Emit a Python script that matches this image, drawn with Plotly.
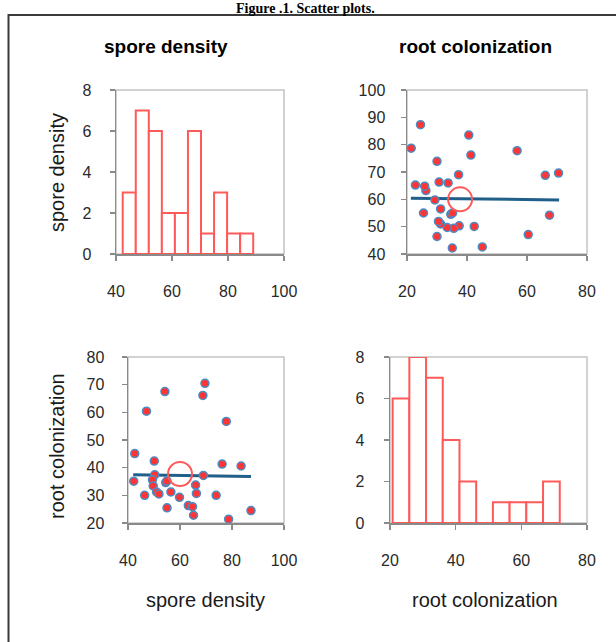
import plotly.graph_objects as go

# ---------------- data ----------------
spore_bin_edges = [42.4, 47.06, 51.72, 56.38, 61.04, 65.7, 70.36, 75.02, 79.68, 84.34, 89.0]
spore_counts = [3, 7, 6, 2, 2, 6, 1, 3, 1, 1]

root_bin_edges = [20.8, 25.89, 30.98, 36.07, 41.16, 46.25, 51.34, 56.43, 61.52, 66.61, 71.7]
root_counts = [6, 8, 7, 4, 2, 0, 1, 1, 1, 2]

spore_density = [42.2, 42.6, 46.4, 47.1, 50.1, 50.3, 49.4, 49.7, 51.0, 51.9,
                 54.2, 54.5, 55.0, 55.0, 56.5, 59.8, 63.2, 64.8, 65.2, 66.0,
                 66.3, 68.8, 69.6, 69.0, 73.9, 76.2, 77.8, 78.7, 83.5, 87.3]
root_colonization = [35.1, 45.1, 30.0, 60.4, 42.4, 37.4, 35.6, 33.4, 31.2, 30.5,
                     67.5, 34.6, 35.2, 25.5, 31.2, 29.3, 26.3, 25.9, 22.8, 33.7,
                     30.7, 66.1, 70.5, 37.2, 30.0, 41.3, 56.7, 21.4, 40.6, 24.5]

# fitted lines and mean markers
fit_root_x = [21.3, 70.7]
fit_spore_y = [60.4, 59.8]
fit_spore_x = [42.0, 87.3]
fit_root_y = [37.4, 36.8]
mean_spore = [60.0]
mean_root = [37.7]

spore_ticks = [40, 60, 80, 100]
root_ticks = [20, 40, 60, 80]
root_ticks_y = [20, 30, 40, 50, 60, 70, 80]
spore_ticks_y = [40, 50, 60, 70, 80, 90, 100]
count_ticks = [0, 2, 4, 6, 8]

titles = ["spore density", "root colonization"]
fig_title = "Figure .1. Scatter plots."

# ---------------- layout helpers ----------------
W, H = 616, 642
def px_x(p): return p / W
def px_y(p): return 1 - p / H

FONT = "Liberation Sans, Arial, sans-serif"
RED = "#ff5a5a"
PT_RED = "#ff3535"
PT_EDGE = "#4a8cc4"
LINE_BLUE = "#1f5f8a"
AXIS_GRAY = "#8a8a8a"
FRAME_GRAY = "#c4c4c4"

fig = go.Figure()

def centers(edges):
    return [(edges[i] + edges[i + 1]) / 2 for i in range(len(edges) - 1)]

def widths(edges):
    return [edges[i + 1] - edges[i] for i in range(len(edges) - 1)]

# top-left histogram
fig.add_trace(go.Bar(x=centers(spore_bin_edges), y=spore_counts, width=widths(spore_bin_edges),
                     marker=dict(color="white", line=dict(color=RED, width=2)),
                     xaxis="x", yaxis="y", showlegend=False, hoverinfo="skip"))
# bottom-right histogram
fig.add_trace(go.Bar(x=centers(root_bin_edges), y=root_counts, width=widths(root_bin_edges),
                     marker=dict(color="white", line=dict(color=RED, width=2)),
                     xaxis="x4", yaxis="y4", showlegend=False, hoverinfo="skip"))

# top-right scatter: root (x) vs spore (y)
fig.add_trace(go.Scatter(x=fit_root_x, y=fit_spore_y, mode="lines",
                         line=dict(color=LINE_BLUE, width=3), xaxis="x2", yaxis="y2", showlegend=False))
fig.add_trace(go.Scatter(x=root_colonization, y=spore_density, mode="markers",
                         marker=dict(color=PT_RED, size=8, line=dict(color=PT_EDGE, width=1.5)),
                         xaxis="x2", yaxis="y2", showlegend=False))
fig.add_trace(go.Scatter(x=mean_root, y=mean_spore, mode="markers",
                         marker=dict(symbol="circle-open", color=RED, size=24, line=dict(width=2)),
                         xaxis="x2", yaxis="y2", showlegend=False))

# bottom-left scatter: spore (x) vs root (y)
fig.add_trace(go.Scatter(x=fit_spore_x, y=fit_root_y, mode="lines",
                         line=dict(color=LINE_BLUE, width=3), xaxis="x3", yaxis="y3", showlegend=False))
fig.add_trace(go.Scatter(x=spore_density, y=root_colonization, mode="markers",
                         marker=dict(color=PT_RED, size=8, line=dict(color=PT_EDGE, width=1.5)),
                         xaxis="x3", yaxis="y3", showlegend=False))
fig.add_trace(go.Scatter(x=mean_spore, y=mean_root, mode="markers",
                         marker=dict(symbol="circle-open", color=RED, size=24, line=dict(width=2)),
                         xaxis="x3", yaxis="y3", showlegend=False))

tickfont = dict(family=FONT, size=16, color="#2a2a2a")

def ax(domain, rng, ticks, anchor, standoff):
    return dict(domain=domain, range=rng, tickvals=ticks, ticktext=[str(t) for t in ticks],
                showgrid=False, zeroline=False, showline=True, linecolor=AXIS_GRAY, linewidth=1.5,
                ticks="outside", ticklen=5, tickcolor=AXIS_GRAY, tickwidth=1.5,
                tickfont=tickfont, anchor=anchor, ticklabelstandoff=standoff, fixedrange=True,
                automargin=False)

top_y = [px_y(254), px_y(90)]
bot_y = [px_y(523), px_y(357)]

fig.update_layout(
    width=W, height=H, margin=dict(l=0, r=0, t=0, b=0, pad=0),
    paper_bgcolor="white", plot_bgcolor="white", bargap=0,
    xaxis=ax([px_x(116), px_x(284)], [40, 100], spore_ticks, "y", 17),
    yaxis=ax(top_y, [0, 8], count_ticks, "x", 15),
    xaxis2=ax([px_x(407), px_x(587)], [20, 80], root_ticks, "y2", 17),
    yaxis2=ax(top_y, [40, 100], spore_ticks_y, "x2", 12),
    xaxis3=ax([px_x(128), px_x(284)], [40, 100], spore_ticks, "y3", 17),
    yaxis3=ax(bot_y, [20, 80], root_ticks_y, "x3", 14),
    xaxis4=ax([px_x(390), px_x(587)], [20, 80], root_ticks, "y4", 17),
    yaxis4=ax(bot_y, [0, 8], count_ticks, "x4", 16),
)

shapes = []
for xs, ys in [("x", "y"), ("x2", "y2"), ("x3", "y3"), ("x4", "y4")]:
    shapes.append(dict(type="rect", xref=f"{xs} domain", yref=f"{ys} domain", x0=0, x1=1, y0=0, y1=1,
                       line=dict(color=FRAME_GRAY, width=1.5), layer="below"))
# outer frame
shapes.append(dict(type="rect", xref="paper", yref="paper", x0=px_x(8.5), x1=px_x(640),
                   y0=px_y(680), y1=px_y(15), line=dict(color="#3a3a3a", width=2)))
fig.update_layout(shapes=shapes)

ann = []
ann.append(dict(text="<b>" + fig_title + "</b>", x=px_x(305), y=1.0, xref="paper", yref="paper",
                xanchor="center", yanchor="top", showarrow=False, borderpad=0,
                font=dict(family="Liberation Serif, DejaVu Serif, serif", size=14, color="black")))
# column titles
for t, cx in zip(titles, [166, 475]):
    ann.append(dict(text="<b>" + t + "</b>", x=px_x(cx), y=px_y(46), xref="paper", yref="paper",
                    xanchor="center", yanchor="middle", showarrow=False,
                    font=dict(family=FONT, size=19, color="black")))
# bottom axis titles
for t, cx in zip(titles, [206, 485]):
    ann.append(dict(text=t, x=px_x(cx), y=px_y(600), xref="paper", yref="paper",
                    xanchor="center", yanchor="middle", showarrow=False,
                    font=dict(family=FONT, size=20, color="#1a1a1a")))
# left axis titles (rotated)
for t, cy in zip(titles, [173, 446]):
    ann.append(dict(text=t, x=px_x(57), y=px_y(cy), xref="paper", yref="paper",
                    xanchor="center", yanchor="middle", showarrow=False, textangle=-90,
                    font=dict(family=FONT, size=20, color="#1a1a1a")))
fig.update_layout(annotations=ann)

fig.write_html("out.html", config={"displayModeBar": False, "staticPlot": True},
               post_script="document.body.style.margin='0px';")
